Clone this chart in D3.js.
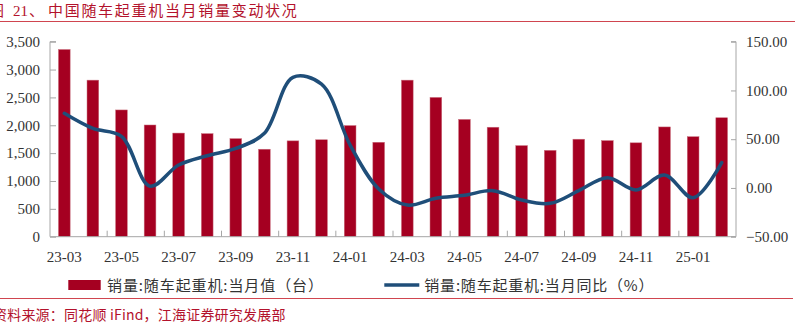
<!DOCTYPE html>
<html><head><meta charset="utf-8">
<script src="https://cdn.jsdelivr.net/npm/d3@7"></script>
<style>
html,body{margin:0;padding:0;background:#fff;}
svg{display:block;}
</style></head>
<body>
<script>
const categories = ["23-03","23-04","23-05","23-06","23-07","23-08","23-09","23-10","23-11","23-12",
  "24-01","24-02","24-03","24-04","24-05","24-06","24-07","24-08","24-09","24-10","24-11","24-12","25-01","25-02"];
const salesValues = [3360,2810,2275,2005,1860,1850,1760,1570,1720,1740,1995,1695,2810,2500,2105,1965,1635,1550,1750,1725,1685,1970,1795,2135];
const yoyValues = [76.5,61,53,1.8,23.5,33,40.5,56,113.5,106.5,44,-1,-17.5,-10.5,-7.5,-2.8,-12.4,-15.8,-2.8,10.5,-2,13.3,-10,26];
const leftTicks = [0,500,1000,1500,2000,2500,3000,3500];
const rightTicks = [-50,0,50,100,150];
const xLabelEvery = 2;
const titleText = "中国随车起重机当月销量变动状况";
const legendBar = "销量:随车起重机:当月值（台）";
const legendLine = "销量:随车起重机:当月同比（%）";
const sourceText = "资料来源：同花顺 iFind，江海证券研究发展部";

const W = 803, H = 327;
const m = {left:50, right:736, top:41.7, bottom:236.7};
const svg = d3.select("body").append("svg").attr("width",W).attr("height",H);
const serif = "'Liberation Serif','DejaVu Serif',serif";
const cjk = "'Noto Sans CJK SC','Noto Sans',sans-serif";
const axisColor = "#a6a6a6";
const barColor = "#a50021";
const lineColor = "#1f4e79";
const redText = "#b3122c";

const x = d3.scaleBand().domain(categories).range([m.left, m.right]).paddingInner(0.59).paddingOuter(0.295);
const xb = d3.scaleBand().domain(categories).range([m.left, m.right]);
const yL = d3.scaleLinear().domain([0,3500]).range([m.bottom, m.top]);
const yR = d3.scaleLinear().domain([-50,150]).range([m.bottom, m.top]);

// title
svg.append("text").attr("x",-11).attr("y",16).attr("font-family",cjk).attr("font-size",15).attr("fill",redText).text("图");
svg.append("text").attr("x",13).attr("y",16).attr("font-family",serif).attr("font-size",15).attr("fill",redText).text("21");
svg.append("text").attr("x",29).attr("y",16).attr("font-family",cjk).attr("font-size",15).attr("fill",redText).text("、");
svg.append("text").attr("x",48).attr("y",16).attr("font-family",cjk).attr("font-size",15).attr("letter-spacing",1.7).attr("fill",redText).text(titleText);
svg.append("line").attr("x1",0).attr("x2",795).attr("y1",21.5).attr("y2",21.5).attr("stroke","#d0454f").attr("stroke-width",1);

// bars
svg.append("g").selectAll("rect").data(salesValues).join("rect")
  .attr("x",(d,i)=>x(categories[i])).attr("width",x.bandwidth())
  .attr("y",d=>yL(d)).attr("height",d=>yL(0)-yL(d))
  .attr("fill",barColor).attr("stroke","#c9707f").attr("stroke-width",0.5);

// axes
const gL = svg.append("g").attr("transform",`translate(${m.left},0)`)
  .call(d3.axisRight(yL).tickValues(leftTicks).tickSize(6).tickFormat(""));
gL.selectAll("path,line").attr("stroke",axisColor);
gL.select("path").attr("d",`M6,${m.top}H0V${m.bottom}`);
svg.append("g").selectAll("text").data(leftTicks).join("text")
  .attr("x",40).attr("y",d=>yL(d)).attr("dy","0.35em").attr("text-anchor","end")
  .attr("font-family",serif).attr("font-size",15).attr("fill","#333").text(d3.format(","));

const gR = svg.append("g").attr("transform",`translate(${m.right},0)`)
  .call(d3.axisLeft(yR).tickValues(rightTicks).tickSize(5).tickFormat(""));
gR.selectAll("path,line").attr("stroke",axisColor);
gR.select("path").attr("d",`M-5,${m.top}H0V${m.bottom}H-5`);
svg.append("g").selectAll("text").data(rightTicks).join("text")
  .attr("x",746).attr("y",d=>yR(d)).attr("dy","0.35em").attr("text-anchor","start")
  .attr("font-family",serif).attr("font-size",15).attr("fill","#333").text(d3.format(".2f"));

// x axis
svg.append("line").attr("x1",m.left).attr("x2",m.right).attr("y1",m.bottom).attr("y2",m.bottom).attr("stroke",axisColor);
const tickCats = categories.filter((c,i)=>i>0 && i%xLabelEvery===0);
svg.append("g").selectAll("line").data(tickCats).join("line")
  .attr("x1",d=>xb(d)).attr("x2",d=>xb(d)).attr("y1",m.bottom).attr("y2",m.bottom-6).attr("stroke",axisColor);
svg.append("g").selectAll("text").data(categories.filter((c,i)=>i%xLabelEvery===0)).join("text")
  .attr("x",d=>xb(d)+xb.bandwidth()/2).attr("y",262).attr("text-anchor","middle")
  .attr("font-family",serif).attr("font-size",15).attr("fill","#333").text(d=>d);

// line
const line = d3.line().x((d,i)=>xb(categories[i])+xb.bandwidth()/2).y(d=>yR(d)).curve(d3.curveCatmullRom.alpha(0.5));
svg.append("path").datum(yoyValues).attr("d",line).attr("fill","none").attr("stroke",lineColor).attr("stroke-width",3.5).attr("stroke-linecap","round");

// legend
svg.append("rect").attr("x",68.3).attr("y",280).attr("width",32.4).attr("height",10).attr("fill",barColor);
svg.append("text").attr("x",107).attr("y",290.5).attr("font-family",cjk).attr("font-size",15).attr("letter-spacing",0.9).attr("fill","#333").text(legendBar);
svg.append("line").attr("x1",384.3).attr("x2",419.3).attr("y1",285).attr("y2",285).attr("stroke",lineColor).attr("stroke-width",3.5);
svg.append("text").attr("x",424.3).attr("y",290.5).attr("font-family",cjk).attr("font-size",15).attr("letter-spacing",0.8).attr("fill","#333").text(legendLine);

svg.append("line").attr("x1",0).attr("x2",793).attr("y1",298.5).attr("y2",298.5).attr("stroke","#d0454f").attr("stroke-width",1);
svg.append("text").attr("x",-7).attr("y",320).attr("font-family",cjk).attr("font-size",14).attr("letter-spacing",0.2).attr("fill",redText).text(sourceText);
</script>
</body></html>
